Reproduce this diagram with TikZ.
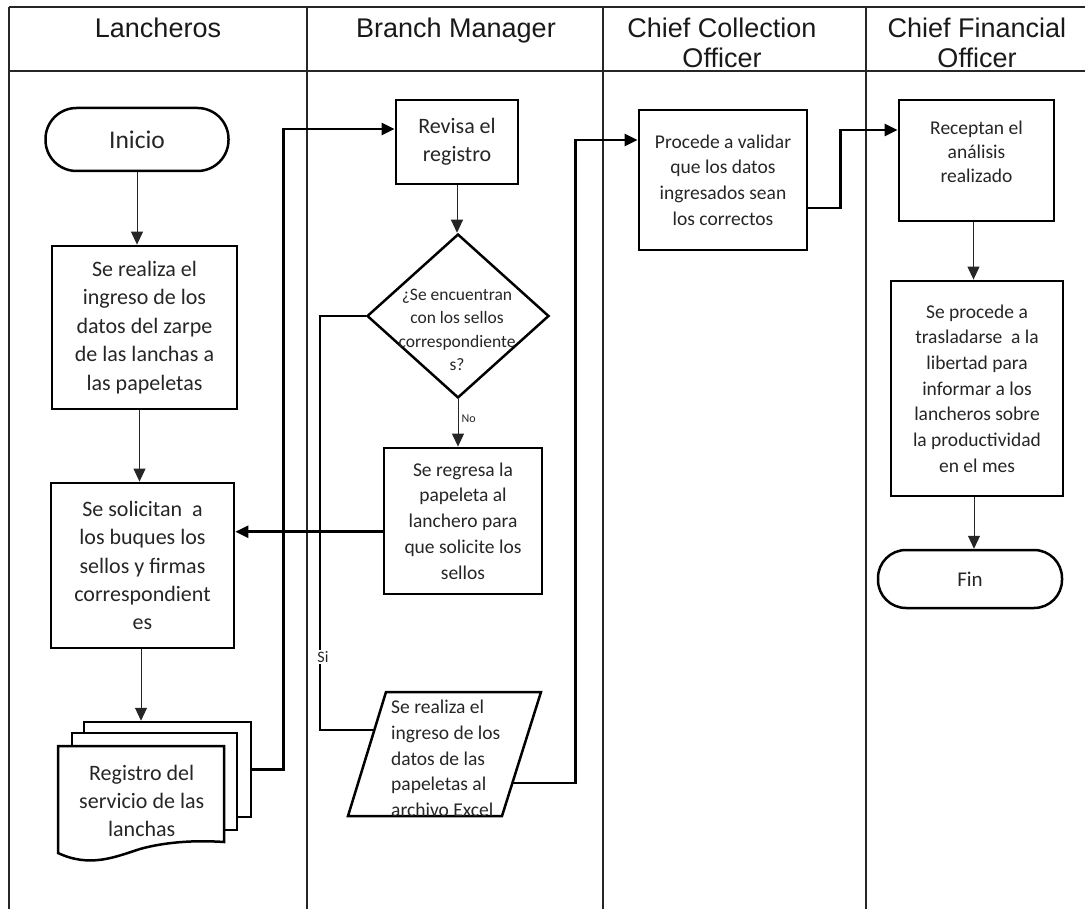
\documentclass[tikz,border=0pt]{standalone}
\usepackage{fontspec}
\setmainfont{Carlito}
\newfontfamily\hdrfont{Liberation Sans}
\usetikzlibrary{arrows.meta,shapes.geometric,calc}
\begin{document}
\begin{tikzpicture}[x=1pt,y=-1pt,
  lane/.style={line width=1.1pt, draw=black!85},
  hdr/.style={font=\hdrfont\fontsize{27}{30}\selectfont, align=center, anchor=north, inner sep=0pt, text=black!90},
  box/.style={draw=black, line width=2.8pt, rectangle, inner sep=0pt, align=center, text=black!85, fill=white, font=\fontsize{22}{28.4}\selectfont},
  sbox/.style={box, font=\fontsize{19.5}{25.7}\selectfont},
  term/.style={draw=black, line width=2.5pt, rectangle, inner sep=0pt, fill=white, text=black!85},
  txt/.style={inner sep=0pt, align=center, text=black!85},
  shape line/.style={draw=black, line width=2.5pt, fill=white},
  tarrow/.style={line width=1pt, draw=black!85, -{Triangle[length=13pt,width=12pt]}},
  karrow/.style={line width=2.6pt, draw=black, -{Triangle[length=13pt,width=12pt]}},
  siline/.style={line width=1.6pt, draw=black},
]
\useasboundingbox (0,0) rectangle (1085,909);
% swimlanes
\draw[lane] (9,7) -- (1085,7);
\draw[lane] (9,71) -- (1085,71);
\draw[lane] (9,7) -- (9,909);
\draw[lane] (307,7) -- (307,909);
\draw[lane] (603,7) -- (603,909);
\draw[lane] (866,7) -- (866,909);
\node[hdr] (h1) at (158,17.3) {Lancheros};
\node[hdr] (h2) at (456,17.3) {Branch Manager};
\node[hdr] (h3) at (722,17.3) {Chief Collection\\Officer};
\node[hdr] (h4) at (977,17.3) {Chief Financial\\Officer};

% Lancheros
\node[term, minimum width=183pt, minimum height=63pt, rounded corners=31pt, font=\fontsize{25.5}{30}\selectfont] (ini) at (137,139.5) {Inicio};
\node[box, minimum width=185pt, minimum height=163pt] (b1) at (144.5,327.5) {Se realiza el\\ingreso de los\\datos del zarpe\\de las lanchas a\\las papeletas};
\node[box, minimum width=183pt, minimum height=165pt] (b2) at (142.5,565.5) {Se solicitan\ \ a\\los buques los\\sellos y firmas\\correspondient\\es};
\node[shape line, rectangle, inner sep=0pt, minimum width=167pt, minimum height=95pt] (dA) at (167.5,769.5) {};
\node[shape line, rectangle, inner sep=0pt, minimum width=165pt, minimum height=97pt] (dB) at (154.5,781.5) {};
\draw[shape line] (58,746) -- (224,746) -- (224,842) .. controls (195,840) and (165,842) .. (140,849) .. controls (115,857) and (90,868) .. (58,853) -- cycle;
\node[txt, font=\fontsize{22}{28.4}\selectfont] (dT) at (141.7,801) {Registro del\\servicio de las\\lanchas};

% Branch Manager
\node[box, minimum width=122pt, minimum height=84pt] (rev) at (457,142) {Revisa el\\registro};
\node[shape line, diamond, inner sep=0pt, minimum width=182pt, minimum height=164pt] (dia) at (458,316) {};
\node[txt, font=\fontsize{17.5}{23.5}\selectfont] (diaT) at (457,330) {¿Se encuentran\\con los sellos\\correspondiente\\s?};
\node[sbox, minimum width=158pt, minimum height=146pt] (reg) at (463,521) {Se regresa la\\papeleta al\\lanchero para\\que solicite los\\sellos};
\coordinate (pTL) at (386,692);
\coordinate (pTR) at (541,692);
\coordinate (pBR) at (502,816);
\coordinate (pBL) at (348,816);
\draw[shape line] (pTL) -- (pTR) -- (pBR) -- (pBL) -- cycle;
\node[txt, align=left, anchor=west, font=\fontsize{19.5}{25.8}\selectfont] (parT) at (391,758.4) {Se realiza el\\ingreso de los\\datos de las\\papeletas al\\archivo Excel};
\coordinate (pIn) at ($(pTL)!0.306!(pBL)$);
\coordinate (pOut) at ($(pTR)!0.734!(pBR)$);

% Chief Collection Officer
\node[sbox, minimum width=168pt, minimum height=140pt] (pro) at (723,180) {Procede a validar\\que los datos\\ingresados sean\\los correctos};

% Chief Financial Officer
\node[box, minimum width=155pt, minimum height=121pt] (rec) at (976.5,160.5) {};
\node[txt, font=\fontsize{19.5}{24.3}\selectfont] (recT) at (976.5,152) {Receptan el\\análisis\\realizado};
\node[sbox, minimum width=172pt, minimum height=215pt] (spr) at (977,388.5) {Se procede a\\trasladarse\ \ a la\\libertad para\\informar a los\\lancheros sobre\\la productividad\\en el mes};
\node[term, minimum width=184pt, minimum height=58pt, rounded corners=28pt, font=\fontsize{21}{25}\selectfont] (fin) at (970,579) {Fin};

% connectors
\draw[tarrow] (ini.south) -- (ini.south |- b1.north);
\draw[tarrow] ([xshift=-5pt]b1.south) -- ([xshift=-5pt]b1.south |- b2.north);
\draw[tarrow] ([xshift=-1.5pt]b2.south) -- ([xshift=-1.5pt]b2.south |- dA.north);
\draw[karrow] (dA.east) -- ++(31,0) |- ([yshift=13pt]rev.west);
\draw[tarrow] (rev.south) -- (rev.south |- dia.north);
\draw[tarrow] (dia.south) -- (dia.south |- reg.north) node[pos=0.42, right, inner sep=3pt, text=black!85, font=\fontsize{12}{14}\selectfont] (noL) {No};
\draw[karrow] ([yshift=-10.7pt]reg.west) -- ([yshift=-10.7pt]reg.west -| b2.east);
\draw[siline] (dia.west) -- ++(-46,0) |- (pIn);
\node[fill=white, inner sep=1pt, text=black!85, font=\fontsize{16}{18}\selectfont] (si) at (323,657) {Si};
\draw[karrow] (pOut) -- ++(63,0) |- ([yshift=40pt]pro.west);
\draw[karrow] ([yshift=-28pt]pro.east) -- ++(32,0) |- ([yshift=30.5pt]rec.west);
\draw[tarrow] ([xshift=-3pt]rec.south) -- ([xshift=-3pt]rec.south |- spr.north);
\draw[tarrow] ([xshift=-3pt]spr.south) -- ([xshift=-3pt]spr.south |- fin.north);
\end{tikzpicture}
\end{document}
